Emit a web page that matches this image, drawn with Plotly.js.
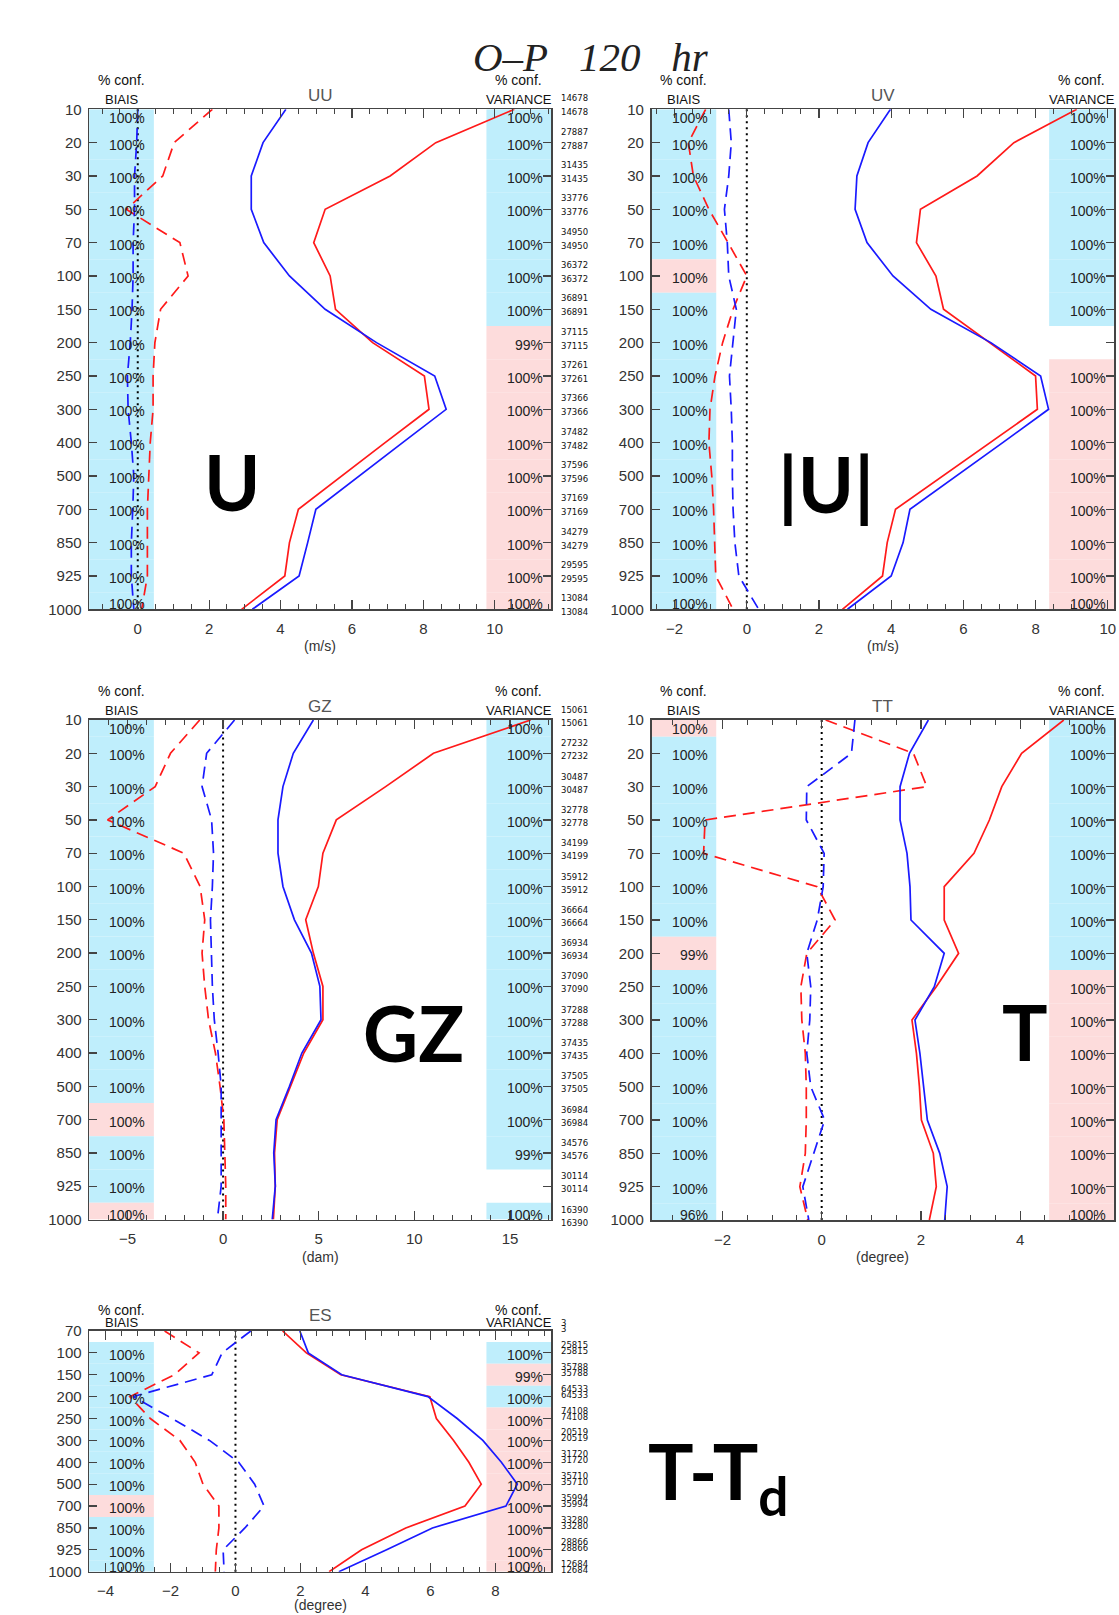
<!DOCTYPE html>
<html>
<head>
<meta charset="utf-8">
<script src="https://cdn.plot.ly/plotly-3.0.1.min.js"></script>
<style>html,body{margin:0;padding:0;background:#fff}#chart{width:1119px;height:1615px}</style>
</head>
<body>
<div id="chart"></div>
<script>
// ---------------- DATA ----------------
const levels   = [10,20,30,50,70,100,150,200,250,300,400,500,700,850,925,1000];
const esLevels = [70,100,150,200,250,300,400,500,700,850,925,1000];

// UU (m/s)
const uuRedStd   = [10.55,8.35,7.07,5.25,4.93,5.39,5.54,6.58,8.03,8.16,6.93,5.72,4.50,4.25,4.12,2.91];
const uuBlueStd  = [4.15,3.51,3.18,3.18,3.53,4.25,5.25,6.69,8.32,8.64,7.42,6.21,4.99,4.76,4.52,3.21];
const uuRedBias  = [2.09,1.02,0.70,-0.32,1.18,1.41,0.64,0.48,0.43,0.43,0.35,0.32,0.27,0.27,0.27,0.11];
const uuBlueBias = [0.00,-0.03,-0.09,-0.09,-0.13,-0.13,-0.16,-0.21,-0.29,-0.27,-0.18,-0.11,-0.14,-0.18,-0.18,-0.11];
const uuBiasConf = [100,100,100,100,100,100,100,100,100,100,100,100,100,100,100,100];
const uuBiasCol  = ['b','b','b','b','b','b','b','b','b','b','b','b','b','b','b','b'];
const uuVarConf  = [100,100,100,100,100,100,100,99,100,100,100,100,100,100,100,100];
const uuVarCol   = ['b','b','b','b','b','b','b','p','p','p','p','p','p','p','p','p'];
const uuCounts   = [14678,27887,31435,33776,34950,36372,36891,37115,37261,37366,37482,37596,37169,34279,29595,13084];

// UV (m/s)
const uvRedStd   = [9.14,7.40,6.38,4.81,4.70,5.24,5.45,6.71,8.00,8.05,6.74,5.43,4.12,3.89,3.76,2.65];
const uvBlueStd  = [3.98,3.36,3.05,3.00,3.33,4.05,5.10,6.76,8.14,8.36,7.09,5.80,4.52,4.33,4.00,2.79];
const uvRedBias  = [-1.14,-1.62,-1.48,-1.05,-0.52,0.00,-0.38,-0.67,-0.88,-1.02,-1.05,-0.97,-0.92,-0.88,-0.86,-0.38];
const uvBlueBias = [-0.50,-0.43,-0.50,-0.62,-0.54,-0.50,-0.29,-0.38,-0.48,-0.43,-0.40,-0.40,-0.38,-0.33,-0.22,0.33];
const uvBiasConf = [100,100,100,100,100,100,100,100,100,100,100,100,100,100,100,100];
const uvBiasCol  = ['b','b','b','b','b','p','b','b','b','b','b','b','b','b','b','b'];
const uvVarConf  = [100,100,100,100,100,100,100,null,100,100,100,100,100,100,100,100];
const uvVarCol   = ['b','b','b','b','b','b','b','','p','p','p','p','p','p','p','p'];

// GZ (dam)
const gzRedStd   = [16.08,11.00,8.50,5.92,5.22,4.98,4.32,4.72,5.22,5.22,4.22,3.53,2.83,2.69,2.73,2.63];
const gzBlueStd  = [4.72,3.67,3.13,2.87,2.87,3.13,3.73,4.62,5.06,5.12,4.12,3.47,2.77,2.65,2.73,2.57];
const gzRedBias  = [-1.22,-2.75,-3.55,-6.04,-2.05,-1.20,-0.96,-1.10,-0.96,-0.76,-0.40,-0.16,0.04,0.10,0.14,0.14];
const gzBlueBias = [0.60,-0.86,-1.10,-0.60,-0.50,-0.56,-0.66,-0.60,-0.56,-0.46,-0.26,-0.10,-0.10,-0.10,-0.10,-0.30];
const gzBiasConf = [100,100,100,100,100,100,100,100,100,100,100,100,100,100,100,100];
const gzBiasCol  = ['b','b','b','b','b','b','b','b','b','b','b','b','p','b','b','p'];
const gzVarConf  = [100,100,100,100,100,100,100,100,100,100,100,100,100,99,null,100];
const gzVarCol   = ['b','b','b','b','b','b','b','b','b','b','b','b','b','b','','b'];
const gzCounts   = [15061,27232,30487,32778,34199,35912,36664,36934,37090,37288,37435,37505,36984,34576,30114,16390];

// TT (degree)
const ttRedStd   = [4.88,4.03,3.63,3.38,3.07,2.47,2.47,2.76,2.31,1.82,1.91,1.97,2.01,2.25,2.31,2.17];
const ttBlueStd  = [2.15,1.77,1.58,1.58,1.72,1.78,1.80,2.47,2.27,1.88,1.98,2.06,2.13,2.38,2.53,2.48];
const ttRedBias  = [0.08,1.85,2.12,-2.35,-2.38,-0.09,0.27,-0.30,-0.42,-0.40,-0.33,-0.31,-0.31,-0.33,-0.44,-0.28];
const ttBlueBias = [0.67,0.60,-0.30,-0.31,0.05,0.03,-0.09,-0.30,-0.22,-0.24,-0.30,-0.22,0.06,-0.16,-0.38,-0.26];
const ttBiasConf = [100,100,100,100,100,100,100,99,100,100,100,100,100,100,100,96];
const ttBiasCol  = ['p','b','b','b','b','b','b','p','b','b','b','b','b','b','b','b'];
const ttVarConf  = [100,100,100,100,100,100,100,100,100,100,100,100,100,100,100,100];
const ttVarCol   = ['b','b','b','b','b','b','b','b','p','p','p','p','p','p','p','p'];

// ES (degree)
const esRedStd   = [1.45,2.18,3.24,5.98,6.18,6.71,7.18,7.56,7.06,5.24,3.88,2.88];
const esBlueStd  = [1.98,2.24,3.27,5.92,6.82,7.61,8.18,8.67,8.32,6.06,4.65,3.18];
const esRedBias  = [-2.18,-1.12,-1.88,-3.25,-2.62,-1.71,-1.24,-1.00,-0.51,-0.51,-0.59,-0.62];
const esBlueBias = [0.47,-0.41,-0.73,-3.15,-1.95,-0.80,0.10,0.59,0.88,0.29,-0.38,-0.35];
const esBiasConf = [null,100,100,100,100,100,100,100,100,100,100,100];
const esBiasCol  = ['','b','b','b','b','b','b','b','p','b','b','b'];
const esVarConf  = [null,100,99,100,100,100,100,100,100,100,100,100];
const esVarCol   = ['','b','p','b','p','p','p','p','p','p','p','p'];
const esCounts   = [3,25815,35788,64533,74108,20519,31720,35710,35994,33280,28866,12684];

// ---------------- LAYOUT ----------------
const W = 1119, H = 1615;
const BAND = {b:'#bfeefc', p:'#fddcdc'};
const RED = '#ff1a1a', BLUE = '#1a1aff';
const SANS = 'Liberation Sans, Arial, sans-serif';
const BOLD = 'Lato, Open Sans, sans-serif';

const panels = [
  {title:'UU', label:'<b>U</b>', unit:'(m/s)', lev:levels, box:[89.2,109.3,551.1,609.3],
   range:[-1.36,11.58], dtick:2, minor:0.5,
   rs:uuRedStd, bs:uuBlueStd, rb:uuRedBias, bb:uuBlueBias,
   bc:uuBiasConf, bcol:uuBiasCol, vc:uuVarConf, vcol:uuVarCol, counts:uuCounts,
   lab:[231.5,481], hdr:[29,10,14], cnt:[11,-3], unitOff:37},
  {title:'UV', label:'<b>|U|</b>', unit:'(m/s)', lev:levels, box:[651.5,109.3,1113.9,609.3],
   range:[-2.64,10.17], dtick:2, minor:0.5,
   rs:uvRedStd, bs:uvBlueStd, rb:uvRedBias, bb:uvBlueBias,
   bc:uvBiasConf, bcol:uvBiasCol, vc:uvVarConf, vcol:uvVarCol, counts:null,
   lab:[826,484], hdr:[29,10,14], unitOff:37},
  {title:'GZ', label:'<b>GZ</b>', unit:'(dam)', lev:levels, box:[89.2,720,551.1,1219.5],
   range:[-7.0,17.15], dtick:5, minor:1,
   rs:gzRedStd, bs:gzBlueStd, rb:gzRedBias, bb:gzBlueBias,
   bc:gzBiasConf, bcol:gzBiasCol, vc:gzVarConf, vcol:gzVarCol, counts:gzCounts,
   lab:[413,1032], hdr:[29,10,14], cnt:[10,-3], unitOff:37},
  {title:'TT', label:'<b>T</b>', unit:'(degree)', lev:levels, box:[651.5,720,1113.9,1220],
   range:[-3.43,5.89], dtick:2, minor:0.5,
   rs:ttRedStd, bs:ttBlueStd, rb:ttRedBias, bb:ttBlueBias,
   bc:ttBiasConf, bcol:ttBiasCol, vc:ttVarConf, vcol:ttVarCol, counts:null,
   lab:[1025,1031], hdr:[29,10,14], unitOff:37},
  {title:'ES', label:'<b>T-T<sub>d</sub></b>', unit:'(degree)', lev:esLevels, box:[89.2,1331,551.1,1571.7],
   range:[-4.5,9.71], dtick:2, minor:0.5,
   rs:esRedStd, bs:esBlueStd, rb:esRedBias, bb:esBlueBias,
   bc:esBiasConf, bcol:esBiasCol, vc:esVarConf, vcol:esVarCol, counts:esCounts,
   lab:[713,1476], hdr:[21,9,16], cnt:[8,2], labAnchorLeft:646, unitOff:33}
];

const data = [];
const layout = {
  width: W, height: H,
  margin: {l:0, r:0, t:0, b:0},
  paper_bgcolor: '#fff', plot_bgcolor: '#fff',
  showlegend: false,
  shapes: [], annotations: []
};

const fy = py => 1 - py / H;
const fx = px => px / W;

panels.forEach((p, k) => {
  const n = k === 0 ? '' : String(k + 1);
  const xa = 'x' + n, ya = 'y' + n;
  const [l, t, r, b] = p.box;
  const nl = p.lev.length;
  const idx = p.lev.map((_, i) => i);

  layout['xaxis' + n] = {
    domain: [fx(l), fx(r)], anchor: ya, range: p.range,
    showgrid: false, zeroline: false, showline: true, linecolor: '#444', linewidth: 1.6,
    mirror: 'allticks', ticks: 'inside', ticklen: 9, tickwidth: 1.2, tickcolor: '#444',
    tick0: 0, dtick: p.dtick,
    minor: {dtick: p.minor, tick0: 0, ticks: 'inside', ticklen: 5, tickwidth: 1, tickcolor: '#444', showgrid: false},
    tickfont: {family: SANS, size: 15, color: '#333'},
    ticklabelstandoff: 5, fixedrange: true
  };
  layout['yaxis' + n] = {
    domain: [fy(b), fy(t)], anchor: xa, range: [nl - 1, 0],
    showgrid: false, zeroline: false, showline: true, linecolor: '#444', linewidth: 1.6,
    mirror: 'allticks', ticks: 'inside', ticklen: 8, tickwidth: 1.2, tickcolor: '#444',
    tickmode: 'array', tickvals: idx, ticktext: p.lev.map(String),
    tickfont: {family: SANS, size: 15, color: '#333'},
    ticklabelstandoff: 3, fixedrange: true
  };

  // confidence bands
  const addBand = (cols, x0, x1) => {
    cols.forEach((c, i) => {
      if (!c) return;
      layout.shapes.push({
        type: 'rect', xref: xa + ' domain', yref: ya, layer: 'below',
        x0: x0, x1: x1, y0: Math.max(i - 0.5, 0), y1: Math.min(i + 0.5, nl - 1),
        fillcolor: BAND[c], line: {width: 0}
      });
    });
  };
  addBand(p.bcol, 0, 0.14);
  addBand(p.vcol, 0.86, 1);

  // zero line
  layout.shapes.push({
    type: 'line', xref: xa, yref: ya + ' domain', x0: 0, x1: 0, y0: 0, y1: 1,
    layer: 'below', line: {color: '#000', width: 2, dash: '2px,4px'}
  });

  // percentage labels
  const addPct = (conf, xpos) => {
    conf.forEach((c, i) => {
      if (c === null) return;
      let ys = -2;
      if (i === 0) ys = -9;
      if (i === nl - 1) ys = 5;
      layout.annotations.push({
        xref: xa + ' domain', yref: ya, x: xpos, y: i, xanchor: 'right', yanchor: 'middle',
        yshift: ys, text: c + '%', showarrow: false,
        font: {family: SANS, size: 14, color: '#222'}
      });
    });
  };
  addPct(p.bc, 0.126);
  addPct(p.vc, 0.987);

  // sample counts
  if (p.counts) {
    p.counts.forEach((c, i) => {
      p.cnt.forEach(s => {
        layout.annotations.push({
          xref: 'paper', yref: ya, x: fx(r + 8), y: i, xanchor: 'left', yanchor: 'middle',
          yshift: s, text: String(c), showarrow: false,
          font: {family: 'DejaVu Sans, sans-serif', size: 8.5, color: '#111'}
        });
      });
    });
  }

  // headers
  const hdr = (txt, xd, py, size, color) => layout.annotations.push({
    xref: xa + ' domain', yref: 'paper', x: xd, y: fy(py), xanchor: 'center', yanchor: 'middle',
    text: txt, showarrow: false, font: {family: SANS, size: size, color: color}
  });
  hdr('% conf.', 0.07, t - p.hdr[0], 14, '#111');
  hdr('BIAIS', 0.07, t - p.hdr[1], 13, '#111');
  hdr('% conf.', 0.93, t - p.hdr[0], 14, '#111');
  hdr('VARIANCE', 0.93, t - p.hdr[1], 13, '#111');
  hdr(p.title, 0.5, t - p.hdr[2], 17, '#555');

  // x axis unit
  layout.annotations.push({
    xref: xa + ' domain', yref: 'paper', x: 0.5, y: fy(b + p.unitOff), xanchor: 'center', yanchor: 'middle',
    text: p.unit, showarrow: false, font: {family: SANS, size: 14, color: '#333'}
  });

  // big variable label
  layout.annotations.push({
    xref: 'paper', yref: 'paper', x: fx(p.labAnchorLeft || p.lab[0]), y: fy(p.lab[1]),
    xanchor: p.labAnchorLeft ? 'left' : 'center', yanchor: 'middle',
    text: p.label, showarrow: false, font: {family: BOLD, size: 76, color: '#000'}
  });

  // lines
  const line = (xs, color, dash) => data.push({
    type: 'scatter', mode: 'lines', x: xs, y: idx, xaxis: xa, yaxis: ya,
    line: {color: color, width: 1.7, dash: dash}, hoverinfo: 'skip', showlegend: false
  });
  line(p.rb, RED, '12px,7px');
  line(p.bb, BLUE, '12px,7px');
  line(p.rs, RED, 'solid');
  line(p.bs, BLUE, 'solid');
});

// main title
layout.annotations.push({
  xref: 'paper', yref: 'paper', x: fx(591), y: fy(57), xanchor: 'center', yanchor: 'middle',
  text: '<i>O\u2013P\u00A0\u00A0\u00A0120\u00A0\u00A0\u00A0hr</i>', showarrow: false,
  font: {family: 'Liberation Serif, DejaVu Serif, serif', size: 41, color: '#222'}
});

Plotly.newPlot('chart', data, layout, {staticPlot: true, displayModeBar: false});
</script>
</body>
</html>
